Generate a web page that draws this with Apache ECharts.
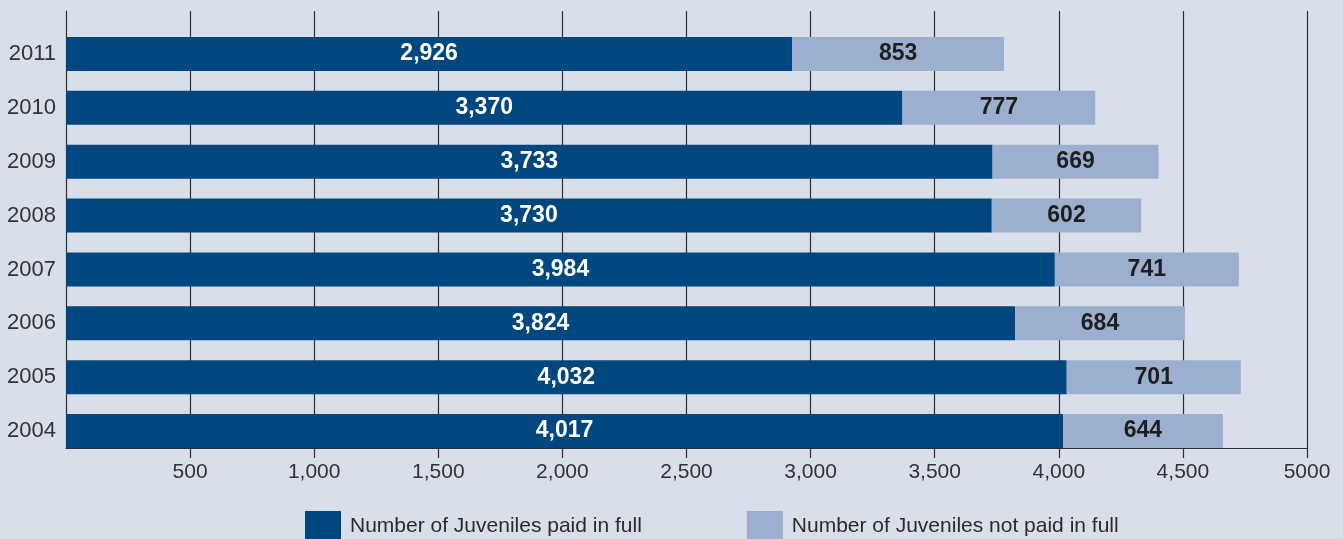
<!DOCTYPE html>
<html>
<head>
<meta charset="utf-8">
<script src="https://cdn.jsdelivr.net/npm/echarts@6/dist/echarts.min.js"></script>
<style>
  html, body { margin: 0; padding: 0; background: #d9deeb; }
  #chart { width: 1343px; height: 539px; }
</style>
</head>
<body>
<div id="chart"></div>
<script>
// data
var years = ['2004', '2005', '2006', '2007', '2008', '2009', '2010', '2011'];
var paidInFull = [4017, 4032, 3824, 3984, 3730, 3733, 3370, 2926];
var notPaidInFull = [644, 701, 684, 741, 602, 669, 777, 853];
var seriesNames = ['Number of Juveniles paid in full', 'Number of Juveniles not paid in full'];
var xTickValues = [500, 1000, 1500, 2000, 2500, 3000, 3500, 4000, 4500, 5000];
var xTickLabels = ['500', '1,000', '1,500', '2,000', '2,500', '3,000', '3,500', '4,000', '4,500', '5000'];

function fmt(v) {
    return String(v).replace(/\B(?=(\d{3})+(?!\d))/g, ',');
}

var font = '"Liberation Sans", Arial, Helvetica, sans-serif';
var myChart = echarts.init(document.getElementById('chart'));

var option = {
    backgroundColor: '#d9deeb',
    textStyle: { fontFamily: font },
    legend: {
        data: seriesNames,
        left: 300,
        top: 506,
        itemWidth: 36,
        itemHeight: 30,
        itemGap: 105,
        selectedMode: false,
        icon: 'rect',
        textStyle: { fontSize: 21, color: '#2b2b2b', padding: [0, 0, 0, 4] }
    },
    grid: [
        // frame: axis lines, ticks and grid lines
        { left: 66, right: 36, top: 11, bottom: 91 },
        // bars
        { left: 66, right: 36, top: 27, bottom: 81 }
    ],
    xAxis: [
        {
            gridIndex: 0,
            type: 'value',
            min: 0,
            max: 5000,
            interval: 500,
            axisLine: { show: true, lineStyle: { color: '#2f2f2f', width: 1.2 } },
            axisTick: { show: true, length: 10, customValues: xTickValues, lineStyle: { color: '#2f2f2f', width: 1.2 } },
            axisLabel: {
                customValues: xTickValues,
                fontSize: 21,
                color: '#333',
                margin: 14,
                formatter: function (v) {
                    var i = xTickValues.indexOf(v);
                    return i >= 0 ? xTickLabels[i] : '';
                }
            },
            splitLine: { show: true, lineStyle: { color: '#2f2f2f', width: 1.2 } }
        },
        {
            gridIndex: 1,
            type: 'value',
            min: 0,
            max: 5000,
            show: false
        }
    ],
    yAxis: [
        {
            gridIndex: 0,
            type: 'value',
            min: 0,
            max: 1,
            axisLine: { show: true, lineStyle: { color: '#2f2f2f', width: 1.2 } },
            axisTick: { show: false },
            axisLabel: { show: false },
            splitLine: { show: false }
        },
        {
            gridIndex: 1,
            type: 'category',
            data: years,
            axisLine: { show: false },
            axisTick: { show: false },
            axisLabel: { fontSize: 22, color: '#333', margin: 10 }
        }
    ],
    series: [
        {
            name: seriesNames[0],
            type: 'bar',
            stack: 'total',
            xAxisIndex: 1,
            yAxisIndex: 1,
            barWidth: 34,
            data: paidInFull,
            itemStyle: { color: '#00467f' },
            label: {
                show: true,
                position: 'inside',
                color: '#ffffff',
                fontSize: 23,
                fontWeight: 'bold',
                formatter: function (p) { return fmt(p.value); }
            }
        },
        {
            name: seriesNames[1],
            type: 'bar',
            stack: 'total',
            xAxisIndex: 1,
            yAxisIndex: 1,
            barWidth: 34,
            data: notPaidInFull,
            itemStyle: { color: '#9cafcf' },
            label: {
                show: true,
                position: 'inside',
                color: '#1e1e1e',
                fontSize: 23,
                fontWeight: 'bold',
                formatter: function (p) { return fmt(p.value); }
            }
        }
    ]
};

myChart.setOption(option);
window.onresize = function () {
    myChart.resize();
};
</script>
</body>
</html>
